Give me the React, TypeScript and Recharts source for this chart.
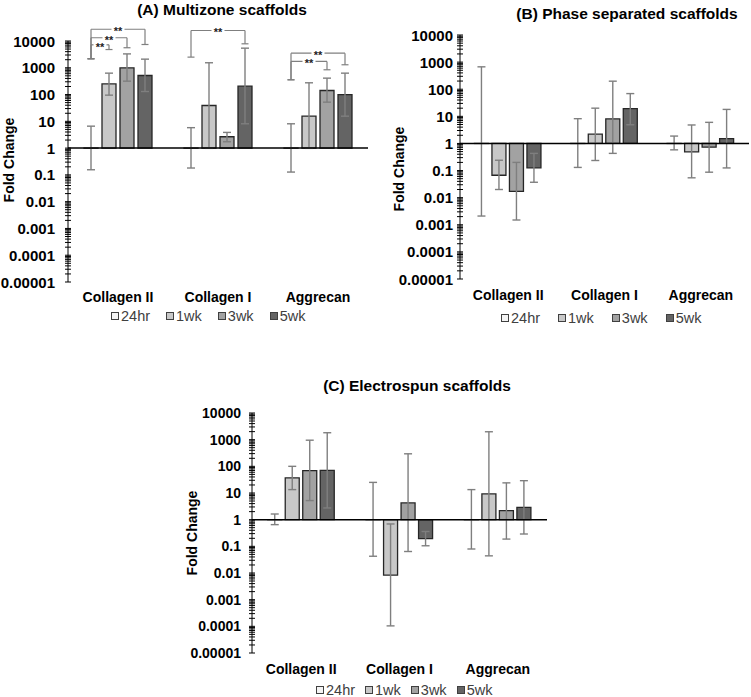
import React from 'react';
import { BarChart, Bar, XAxis, YAxis, ErrorBar, ReferenceLine, Legend } from 'recharts';

const FONT = '"Liberation Sans", Arial, sans-serif';

const categories = ['Collagen II', 'Collagen I', 'Aggrecan'];
const timepoints = ['24hr', '1wk', '3wk', '5wk'];
const timeColors = ['#f4f4f4', '#c8c8c8', '#a2a2a2', '#646464'];
const majorTicks = [0.00001, 0.0001, 0.001, 0.01, 0.1, 1, 10, 100, 1000, 10000];

// rows = gene, columns = timepoint
const multizoneMean = [
  [1, 250, 1000, 515],
  [1, 39, 2.66, 205],
  [1, 15.6, 142, 100],
];
const multizoneLow = [
  [0.155, 95, 316, 130],
  [0.18, 0.98, 1.73, 8.1],
  [0.127, 0.98, 52, 15.6],
];
const multizoneHigh = [
  [6.6, 630, 3300, 2100],
  [5.8, 1540, 3.86, 5400],
  [8.1, 275, 410, 630],
];

const phaseMean = [
  [1, 0.067, 0.017, 0.126],
  [1, 2.2, 8, 19.3],
  [1, 0.49, 0.73, 1.5],
];
const phaseLow = [
  [0.0016, 0.02, 0.0015, 0.037],
  [0.13, 0.235, 0.43, 4.9],
  [0.58, 0.054, 0.087, 0.125],
];
const phaseHigh = [
  [670, 0.24, 0.2, 0.43],
  [8.2, 20, 198, 69],
  [1.87, 4.8, 6, 18],
];

const electroMean = [
  [1, 37, 69, 70],
  [1, 0.0083, 4.24, 0.193],
  [1, 9.2, 2.18, 2.9],
];
const electroLow = [
  [0.65, 13.4, 5.2, 2.75],
  [0.042, 0.000104, 0.064, 0.105],
  [0.079, 0.044, 0.187, 0.29],
];
const electroHigh = [
  [1.63, 100, 955, 1820],
  [25, 0.69, 295, 0.36],
  [13.4, 1980, 24, 29],
];

// significance brackets on the multizone panel (24hr vs later timepoint)
const bracketGene = [0, 0, 0, 1, 2, 2];
const bracketTo = [3, 2, 1, 3, 3, 2];
const bracketTop = [27500, 13200, 7200, 24700, 3500, 1720];
const bracketEnd = [7400, 5600, 4800, 7850, 1295, 842];
const bracketStart = [2170, 2170, 2170, 2500, 356, 356];

// bar centres within a category band (fraction of band)
const barCentre = [0.23, 0.41, 0.59, 0.77];

const allTicks = majorTicks.flatMap((m) =>
  m === 10000 ? [m] : [m, 2 * m, 3 * m, 4 * m, 5 * m, 6 * m, 7 * m, 8 * m, 9 * m]
);

const buildRows = (mean, low, high) =>
  categories.map((name, i) => {
    // span: 0 .. 3 across the categories, feeds the hidden numeric axis
    const row: any = { name, span: (i * 3) / (categories.length - 1) };
    timepoints.forEach((t, j) => {
      const m = mean[i][j];
      // a bar of exactly 1 has no height and recharts drops it with its error bar
      row['v' + t] = [1, m === 1 ? 1.0005 : m];
      row['e' + t] = [m - low[i][j], high[i][j] - m];
    });
    return row;
  });

const LogTick = (props: any) => {
  const { x, y, payload, gap, fs } = props;
  const v = payload.value;
  const exp = Math.log10(v);
  const isMajor = Math.abs(exp - Math.round(exp)) < 1e-6;
  return (
    <g>
      <line x1={x - 3} x2={x + 3} y1={y} y2={y} stroke="#000" strokeWidth={1} />
      {isMajor && (
        <text x={x - gap} y={y} textAnchor="end" dominantBaseline="central" fontSize={fs}
          fontWeight="bold" fontFamily={FONT} fill="#000">
          {String(v)}
        </text>
      )}
    </g>
  );
};

const CatTick = (props: any) => {
  const { x, y, payload, dy } = props;
  return (
    <text x={x} y={y + dy} textAnchor="middle" dominantBaseline="central" fontSize={14}
      fontWeight="bold" fontFamily={FONT} fill="#000">
      {payload.value}
    </text>
  );
};

const foldLabel = (lx, dy) => (props: any) => {
  const vb = props.viewBox;
  const cx = vb.x + lx;
  const cy = vb.y + vb.height / 2 + dy;
  return (
    <text x={cx} y={cy} transform={`rotate(-90 ${cx} ${cy})`} textAnchor="middle"
      dominantBaseline="central" fontSize={14} fontWeight="bold" fontFamily={FONT} fill="#000">
      Fold Change
    </text>
  );
};

const Stars = (props: any) => {
  const vb = props.viewBox;
  const cx = vb.x + vb.width / 2;
  const cy = vb.y + vb.height / 2;
  return (
    <g>
      <rect x={cx - 6.5} y={cy - 4} width={13} height={8} fill="#fff" />
      <text x={cx} y={cy + 6} textAnchor="middle" fontSize={11} fontWeight="bold"
        fontFamily={FONT} fill="#222">
        **
      </text>
    </g>
  );
};

const legendContent = (padLeft, gap) => () => (
  <div style={{ display: 'flex', alignItems: 'center', paddingLeft: padLeft, height: '100%',
    fontFamily: FONT, fontSize: 14.5, color: '#404040', lineHeight: '14px' }}>
    {timepoints.map((t, i) => (
      <div key={t} style={{ display: 'flex', alignItems: 'center', marginRight: gap }}>
        <span style={{ display: 'inline-block', width: 8, height: 8, boxSizing: 'border-box',
          background: timeColors[i], border: '1px solid #404040', marginRight: 2 }} />
        <span>{t}</span>
      </div>
    ))}
  </div>
);

const seg = (key, x1, y1, x2, y2, label?) => (
  <ReferenceLine key={key} xAxisId="pos" ifOverflow="visible" stroke="#7f7f7f" strokeWidth={1.2}
    segment={[{ x: x1, y: y1 }, { x: x2, y: y2 }]} label={label} />
);

const bracketLines = () => {
  const out: any[] = [];
  const cw = 0.035;
  bracketGene.forEach((g, b) => {
    const xl = g + barCentre[0];
    const xr = g + barCentre[bracketTo[b]];
    const top = bracketTop[b];
    out.push(seg('l' + b, xl, bracketStart[b], xl, top));
    out.push(seg('lc' + b, xl - cw, bracketStart[b], xl + cw, bracketStart[b]));
    out.push(seg('r' + b, xr, top, xr, bracketEnd[b]));
    out.push(seg('rc' + b, xr - cw, bracketEnd[b], xr + cw, bracketEnd[b]));
  });
  bracketGene.forEach((g, b) => {
    const xl = g + barCentre[0];
    const xr = g + barCentre[bracketTo[b]];
    out.push(seg('h' + b, xl, bracketTop[b], xr, bracketTop[b], Stars));
  });
  return out;
};

function FoldChart(p: any) {
  return (
    <BarChart width={p.w} height={p.h} data={p.rows} margin={p.margin}
      barCategoryGap={p.catGap} barGap={p.barGap}>
      <XAxis dataKey="name" axisLine={false} tickLine={false} tickSize={0} tickMargin={0}
        height={p.xHeight} interval={0} tick={<CatTick dy={p.catDy} />} />
      <XAxis xAxisId="pos" dataKey="span" type="number" domain={[0, 3]} hide allowDataOverflow />
      <YAxis scale="log" type="number" domain={[0.00001, 10000]} allowDataOverflow ticks={allTicks}
        interval={0} width={p.yWidth} tickSize={0} tickMargin={0} tickLine={false}
        axisLine={{ stroke: '#000', strokeWidth: 1 }} tick={<LogTick gap={p.tickGap} fs={p.tickFs} />}
        label={foldLabel(p.labelX, p.labelDy)} />
      {timepoints.map((t, j) => (
        <Bar key={t} dataKey={'v' + t} name={t} fill={timeColors[j]} stroke="#262626"
          strokeWidth={1.3} isAnimationActive={false}>
          <ErrorBar dataKey={'e' + t} width={4} stroke="#7f7f7f" strokeWidth={1.4} direction="y"
            isAnimationActive={false} />
        </Bar>
      ))}
      <ReferenceLine y={1} stroke="#000" strokeWidth={1.5} />
      {p.brackets}
      <Legend verticalAlign="bottom" height={p.legendHeight} wrapperStyle={{ left: 0, width: p.w }}
        content={legendContent(p.legendLeft, p.legendGap)} />
    </BarChart>
  );
}

const Title = ({ x, y, text }) => (
  <div style={{ position: 'absolute', left: x, top: y, transform: 'translate(-50%, -50%)',
    whiteSpace: 'nowrap', fontFamily: FONT, fontWeight: 'bold', fontSize: 15.5, color: '#000' }}>
    {text}
  </div>
);

export default function App() {
  return (
    <div style={{ position: 'absolute', left: 0, top: 0, width: 751, height: 697,
      overflow: 'hidden', background: '#fff' }}>
      <div style={{ position: 'absolute', left: 0, top: 0, width: 376, height: 329 }}>
        <FoldChart rows={buildRows(multizoneMean, multizoneLow, multizoneHigh)} w={376} h={329}
          margin={{ top: 41, right: 8, bottom: 4, left: 0 }} yWidth={68} xHeight={25}
          legendHeight={18} tickFs={15} tickGap={13} labelX={9} labelDy={-1.5} catDy={15}
          catGap="16%" barGap={4} legendLeft={111} legendGap={16} brackets={bracketLines()} />
      </div>
      <div style={{ position: 'absolute', left: 376, top: 0, width: 375, height: 329 }}>
        <FoldChart rows={buildRows(phaseMean, phaseLow, phaseHigh)} w={375} h={329}
          margin={{ top: 35, right: 2, bottom: 2, left: 0 }} yWidth={84} xHeight={30}
          legendHeight={18} tickFs={15} tickGap={7} labelX={22.5} labelDy={12} catDy={16}
          catGap="15%" barGap={3.5} legendLeft={125} legendGap={18} brackets={null} />
      </div>
      <div style={{ position: 'absolute', left: 180, top: 350, width: 375, height: 347 }}>
        <FoldChart rows={buildRows(electroMean, electroLow, electroHigh)} w={375} h={347}
          margin={{ top: 63, right: 8, bottom: 0, left: 0 }} yWidth={72} xHeight={30}
          legendHeight={14} tickFs={14} tickGap={11} labelX={11.7} labelDy={0} catDy={16}
          catGap="16%" barGap={3.5} legendLeft={136} legendGap={10} brackets={null} />
      </div>
      <Title x={222} y={9.5} text="(A) Multizone scaffolds" />
      <Title x={627} y={14} text="(B) Phase separated scaffolds" />
      <Title x={417} y={386} text="(C) Electrospun scaffolds" />
    </div>
  );
}
